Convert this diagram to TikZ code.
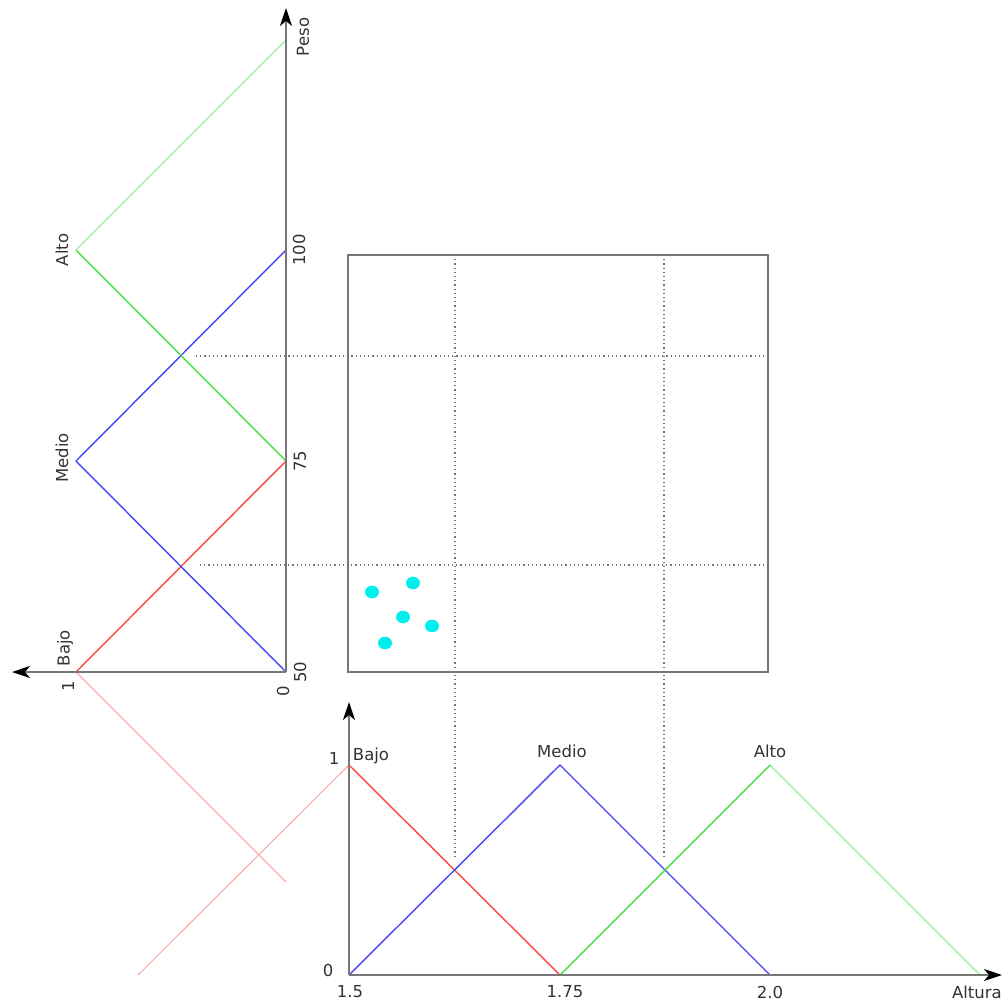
\documentclass[tikz,border=0pt]{standalone}
\usepackage{fontspec}
\setmainfont{DejaVu Sans}
\usetikzlibrary{arrows.meta}
\definecolor{cred}{HTML}{FF4444}
\definecolor{cblue}{HTML}{4444FF}
\definecolor{cgreen}{HTML}{44E044}
\definecolor{caxis}{HTML}{777777}
\definecolor{ccyan}{HTML}{00EEEE}
\begin{document}
\begin{tikzpicture}[x=1pt,y=-1pt,
  axisline/.style={draw=caxis, line width=1.8pt, -{Stealth[black,length=18pt,width=12pt,inset=5pt]}},
  boxline/.style={draw=caxis, line width=1.8pt},
  grid/.style={draw=black!55, line width=1.2pt, dash pattern=on 1.2pt off 3pt},
  mf/.style={line width=1.4pt},
  faint/.style={line width=1.1pt},
  lbl/.style={font=\fontsize{16.5}{19}\selectfont, text=black!80, inner sep=0pt},
  rlbl/.style={lbl, rotate=90},
  dot/.style={fill=ccyan, draw=none}]
\useasboundingbox (0,0) rectangle (1003,1001);
% ---------- key points ----------
\coordinate (O1) at (286,672);
\coordinate (Ptop) at (286,8);
\coordinate (Pleft) at (12,672);
\coordinate (L1) at (76,672);
\coordinate (P75) at (286,461);
\coordinate (P100) at (286,250);
\coordinate (P125) at (286,40);
\coordinate (M75) at (76,461);
\coordinate (M100) at (76,250);
\coordinate (Rfade) at (286,882);
\coordinate (O2) at (349,975);
\coordinate (Atop) at (349,702);
\coordinate (Aright) at (1002,975);
\coordinate (B1) at (349,765);
\coordinate (X175) at (560,975);
\coordinate (X2) at (770,975);
\coordinate (X225) at (980,975);
\coordinate (T175) at (560,765);
\coordinate (T2) at (770,765);
\coordinate (Bfade) at (138,975);
% ---------- grid (dotted) ----------
\coordinate (g1a) at (455,255); \coordinate (g1b) at (455,858);
\coordinate (g2a) at (664,255); \coordinate (g2b) at (664,858);
\coordinate (h1a) at (196,356); \coordinate (h1b) at (768,356);
\coordinate (h2a) at (200,565); \coordinate (h2b) at (768,565);
\draw[grid] (g1a) -- (g1b);
\draw[grid] (g2a) -- (g2b);
\draw[grid] (h1a) -- (h1b);
\draw[grid] (h2a) -- (h2b);
% ---------- box ----------
\coordinate (boxA) at (348,255);
\coordinate (boxB) at (768,672);
\draw[boxline] (boxA) rectangle (boxB);
% ---------- left chart (Peso) ----------
\draw[faint, cred!45] (L1) -- (Rfade);
\draw[faint, cgreen!55] (M100) -- (P125);
\draw[mf, cred] (L1) -- (P75);
\draw[mf, cblue] (O1) -- (M75) -- (P100);
\draw[mf, cgreen] (P75) -- (M100);
\draw[axisline] (O1) -- (Ptop);
\draw[axisline] (O1) -- (Pleft);
% ---------- bottom chart (Altura) ----------
\draw[faint, cred!45] (B1) -- (Bfade);
\draw[faint, cgreen!55] (T2) -- (X225);
\draw[mf, cred] (B1) -- (X175);
\draw[mf, cblue] (O2) -- (T175) -- (X2);
\draw[mf, cgreen] (X175) -- (T2);
\draw[axisline] (O2) -- (Atop);
\draw[axisline] (O2) -- (Aright);
% ---------- dots ----------
\fill[dot] (372,592) ellipse (7 and 6.3);
\fill[dot] (413,583) ellipse (7 and 6.3);
\fill[dot] (403,617) ellipse (7 and 6.3);
\fill[dot] (432,626) ellipse (7 and 6.3);
\fill[dot] (385,643) ellipse (7 and 6.3);
% ---------- labels left ----------
\node[rlbl] (lPeso) at (303,37) {Peso};
\node[rlbl] (l100) at (299,250) {100};
\node[rlbl] (l75) at (300,461) {75};
\node[rlbl] (l50) at (300,672) {50};
\node[rlbl] (l0a) at (283,691) {0};
\node[rlbl] (l1a) at (68,686) {1};
\node[rlbl] (lBajoL) at (65,648) {Bajo};
\node[rlbl] (lMedioL) at (62,458) {Medio};
\node[rlbl] (lAltoL) at (62,250) {Alto};
% ---------- labels bottom ----------
\node[lbl] (l1b) at (334,758) {1};
\node[lbl] (l0b) at (328,970) {0};
\node[lbl] (lBajoB) at (371,756) {Bajo};
\node[lbl] (lMedioB) at (562,751) {Medio};
\node[lbl] (lAltoB) at (770,751) {Alto};
\node[lbl] (l15) at (350,992) {1.5};
\node[lbl] (l175) at (565,992) {1.75};
\node[lbl] (l20) at (770,992) {2.0};
\node[lbl, anchor=east] (lAlt) at (1002,992) {Altura};
\end{tikzpicture}
\end{document}
